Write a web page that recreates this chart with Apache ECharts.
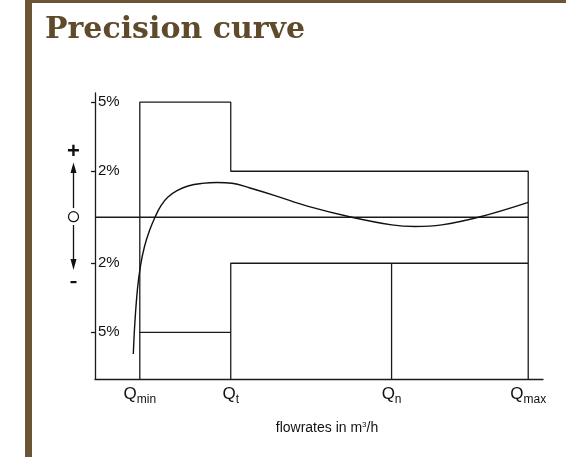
<!DOCTYPE html>
<html>
<head>
<meta charset="utf-8">
<script src="https://cdn.jsdelivr.net/npm/echarts@6/dist/echarts.min.js"></script>
<style>
html,body{margin:0;padding:0;background:#fff;}
#chart{width:566px;height:457px;}
</style>
</head>
<body>
<div id="chart"></div>
<script>
// ---- data ----
var qNames = ['min', 't', 'n', 'max'];
var qPositions = [1, 3.03, 6.62, 9.67];          // Qmin, Qt, Qn, Qmax on flow axis
var yTickValues = [5, 2, -2, -5];                 // error limits in %
var upperLimitLow = 5;                            // between Qmin and Qt
var upperLimitHigh = 2;                           // between Qt and Qmax
var lowerLimitLow = -5;
var lowerLimitHigh = -2;
var curveX = [0.855, 0.893, 0.949, 1.016, 1.105, 1.217, 1.339, 1.473, 1.629, 1.83, 2.076, 2.388, 2.723, 3.058, 3.46, 4.018, 4.761, 5.73, 6.623, 7.143, 7.739, 8.556, 9.672];
var curveY = [-5.94, -4.49, -3.10, -2.10, -1.27, -0.58, 0.0, 0.51, 0.88, 1.16, 1.36, 1.47, 1.51, 1.48, 1.27, 0.94, 0.47, 0.0, -0.33, -0.40, -0.33, 0.0, 0.65];

var yMin = -7.03, yMax = 5.4;
var xMin = 0, xMax = 10;

// ---- build ----
var lineStyle = {color: '#1a1a1a', width: 1.3};
function seg(points){ return {type:'line', data: points, symbol:'none', lineStyle: lineStyle, silent:true, animation:false}; }
var Qmin = qPositions[0], Qt = qPositions[1], Qn = qPositions[2], Qmax = qPositions[3];

var curveData = curveX.map(function(x,i){ return [x, curveY[i]]; });

var chart = echarts.init(document.getElementById('chart'), null, {renderer:'canvas'});
var brown = '#6b5535';
chart.setOption({
  animation: false,
  backgroundColor: '#ffffff',
  title: {
    text: 'Precision curve',
    left: 40, top: 10,
    textStyle: {fontFamily: 'DejaVu Serif', fontWeight: 'bold', fontSize: 30, color: '#5f4a2c'}
  },
  grid: {left: 95, right: 23, top: 93, bottom: 78},
  xAxis: {
    type: 'value', min: xMin, max: xMax,
    splitLine: {show:false},
    axisLine: {onZero:false, lineStyle: {color:'#1a1a1a', width:1.3}},
    axisTick: {show:false},
    axisLabel: {
      customValues: qPositions,
      margin: 4,
      formatter: function(v){
        var i = qPositions.indexOf(v);
        return '{q|Q}{s|' + (i >= 0 ? qNames[i] : '') + '}';
      },
      rich: {
        q: {fontFamily:'Liberation Sans', fontSize:17, color:'#111', verticalAlign:'bottom', lineHeight:20},
        s: {fontFamily:'Liberation Sans', fontSize:12, color:'#111', verticalAlign:'bottom', lineHeight:14, padding:[0,0,-3,0]}
      }
    }
  },
  yAxis: {
    type: 'value', min: yMin, max: yMax,
    splitLine: {show:false},
    axisLine: {show:true, onZero:false, lineStyle: {color:'#1a1a1a', width:1.3}},
    axisTick: {show:true, customValues: yTickValues, length:4, lineStyle:{color:'#1a1a1a', width:1.3}},
    axisLabel: {
      customValues: yTickValues,
      inside: true, margin: 3,
      fontFamily: 'Liberation Sans', fontSize: 15, color: '#111',
      formatter: function(v){ return Math.abs(v) + '%'; }
    }
  },
  graphic: [
    {type:'rect', shape:{x:25, y:0, width:7, height:457}, style:{fill: brown}},
    {type:'rect', shape:{x:25, y:0, width:541, height:3}, style:{fill: brown}},
    {type:'text', x: 327, y: 428, style:{
      text:'flowrates in m{sup|3}/h', align:'center', verticalAlign:'middle',
      font:'14px "Liberation Sans"', fill:'#111',
      rich:{sup:{fontSize:8, fontFamily:'Liberation Sans', fill:'#111', padding:[0,0,7,0]}}
    }},
    {type:'text', x:73.5, y:152, style:{text:'+', align:'center', verticalAlign:'middle', font:'bold 22px "Liberation Sans"', fill:'#111'}},
    {type:'line', shape:{x1:73.5, y1:208, x2:73.5, y2:170}, style:{stroke:'#111', lineWidth:1.3}},
    {type:'polygon', shape:{points:[[73.5,162.5],[70.5,173],[76.5,173]]}, style:{fill:'#111'}},
    {type:'circle', shape:{cx:73.5, cy:216.7, r:5}, style:{fill:'#fff', stroke:'#111', lineWidth:1.2}},
    {type:'line', shape:{x1:73.5, y1:225, x2:73.5, y2:262}, style:{stroke:'#111', lineWidth:1.3}},
    {type:'polygon', shape:{points:[[73.5,270],[70.5,259],[76.5,259]]}, style:{fill:'#111'}},
    {type:'rect', shape:{x:70.5, y:281, width:6, height:2.2}, style:{fill:'#111'}}
  ],
  series: [
    seg([[xMin,0],[Qmax,0]]),
    seg([[Qmin,yMin],[Qmin,upperLimitLow],[Qt,upperLimitLow],[Qt,upperLimitHigh],[Qmax,upperLimitHigh],[Qmax,yMin]]),
    seg([[Qmin,lowerLimitLow],[Qt,lowerLimitLow]]),
    seg([[Qt,yMin],[Qt,lowerLimitHigh],[Qmax,lowerLimitHigh]]),
    seg([[Qn,yMin],[Qn,lowerLimitHigh]]),
    {type:'line', data: curveData, symbol:'none', smooth: 0.4, lineStyle:{color:'#111', width:1.4}, silent:true, animation:false}
  ]
});
</script>
</body>
</html>
